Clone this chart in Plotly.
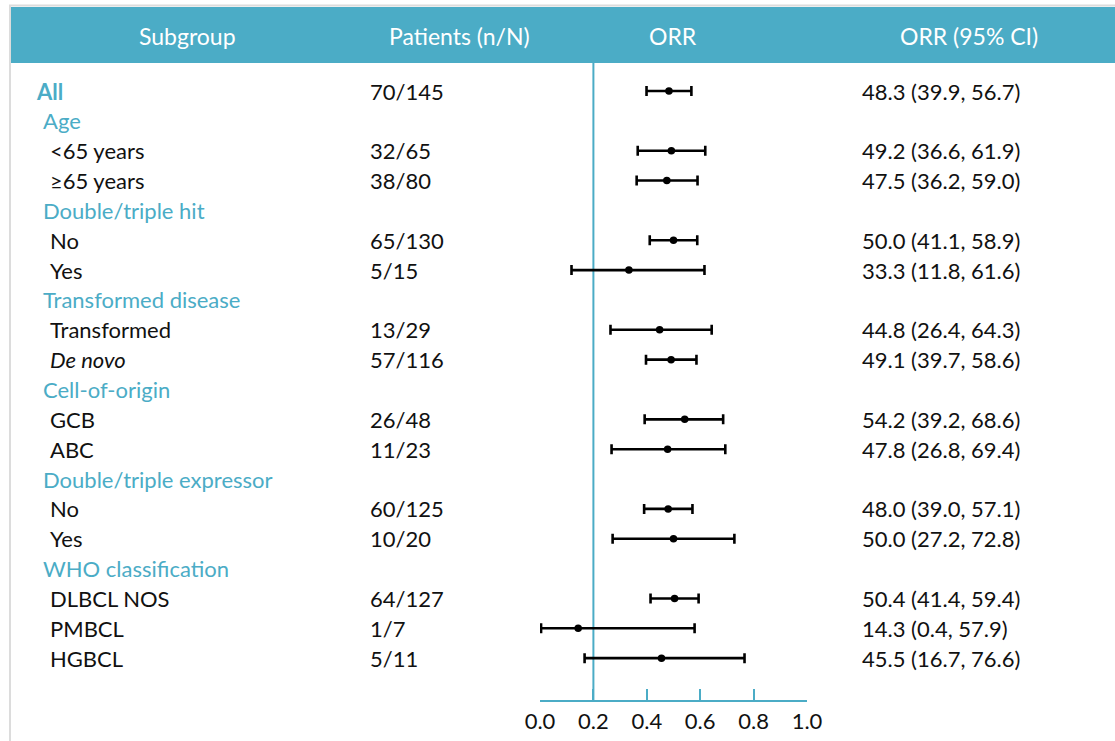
import plotly.graph_objects as go

# ---- data ----
labels = ["All", "Age", "<65 years", "≥65 years", "Double/triple hit", "No", "Yes",
          "Transformed disease", "Transformed", "<i>De novo</i>", "Cell-of-origin", "GCB", "ABC",
          "Double/triple expressor", "No", "Yes", "WHO classification",
          "DLBCL NOS", "PMBCL", "HGBCL"]
# row kind: "all" = overall, "group" = subgroup heading, "item" = subgroup level
kinds = ["all", "group", "item", "item", "group", "item", "item",
         "group", "item", "item", "group", "item", "item",
         "group", "item", "item", "group", "item", "item", "item"]
patients = ["70/145", "", "32/65", "38/80", "", "65/130", "5/15",
            "", "13/29", "57/116", "", "26/48", "11/23",
            "", "60/125", "10/20", "", "64/127", "1/7", "5/11"]
orr = [48.3, None, 49.2, 47.5, None, 50.0, 33.3,
       None, 44.8, 49.1, None, 54.2, 47.8,
       None, 48.0, 50.0, None, 50.4, 14.3, 45.5]
ci_low = [39.9, None, 36.6, 36.2, None, 41.1, 11.8,
          None, 26.4, 39.7, None, 39.2, 26.8,
          None, 39.0, 27.2, None, 41.4, 0.4, 16.7]
ci_high = [56.7, None, 61.9, 59.0, None, 58.9, 61.6,
           None, 64.3, 58.6, None, 68.6, 69.4,
           None, 57.1, 72.8, None, 59.4, 57.9, 76.6]
headers = ["Subgroup", "Patients (n/N)", "ORR", "ORR (95% CI)"]
x_ticks = [0.0, 0.2, 0.4, 0.6, 0.8, 1.0]
reference_line = 0.2

# ---- layout constants ----
W, H = 1115, 741
TEAL = "#4BACC6"
FONT = "Lato"
TXT = 22
row0_px, row_step = 91, 29.85
y_top = -row0_px / row_step
y_bot = (H - row0_px) / row_step

fig = go.Figure()

# error bars + point estimates
xs, ys, lo, hi = [], [], [], []
for i, v in enumerate(orr):
    if v is None:
        continue
    xs.append(v / 100)
    ys.append(i)
    lo.append((v - ci_low[i]) / 100)
    hi.append((ci_high[i] - v) / 100)

fig.add_trace(go.Scatter(
    x=xs, y=ys, mode="markers",
    marker=dict(color="black", size=7.5),
    error_x=dict(type="data", symmetric=False, array=hi, arrayminus=lo,
                 color="black", thickness=2.6, width=5),
    hoverinfo="skip", showlegend=False, cliponaxis=False,
))

fig.update_layout(
    template="none",
    width=W, height=H, autosize=False,
    margin=dict(l=0, r=0, t=0, b=0, pad=0, autoexpand=False),
    paper_bgcolor="white", plot_bgcolor="rgba(0,0,0,0)",
    showlegend=False,
    xaxis=dict(domain=[540 / W, 807 / W], range=[0, 1],
               anchor="free", position=(H - 701) / H, automargin=False,
               showgrid=False, zeroline=False,
               showline=True, linecolor=TEAL, linewidth=2,
               ticks="inside", ticklen=11, tickwidth=2, tickcolor=TEAL,
               tickvals=x_ticks, ticktext=[f"{t:.1f}" for t in x_ticks],
               tickfont=dict(family=FONT, size=TXT, color="#111"),
               ticklabelstandoff=1,
               fixedrange=True),
    yaxis=dict(domain=[0, 1], range=[y_bot, y_top], visible=False,
               automargin=False, fixedrange=True),
)

shapes = []
# outer light-grey frame (left and top)
shapes.append(dict(type="line", xref="paper", yref="paper",
                   x0=10 / W, x1=10 / W, y0=0, y1=1 - 5 / H,
                   line=dict(color="#dcdcdc", width=2)))
shapes.append(dict(type="line", xref="paper", yref="paper",
                   x0=9 / W, x1=1, y0=1 - 5.5 / H, y1=1 - 5.5 / H,
                   line=dict(color="#dcdcdc", width=2)))
# header band
shapes.append(dict(type="rect", xref="paper", yref="paper",
                   x0=11 / W, x1=1, y0=1 - 63 / H, y1=1 - 7 / H,
                   fillcolor=TEAL, line=dict(width=0), layer="below"))
# reference line
shapes.append(dict(type="line", xref="x", yref="paper",
                   x0=reference_line, x1=reference_line,
                   y0=(H - 702) / H, y1=1 - 63 / H,
                   line=dict(color=TEAL, width=2), layer="below"))
fig.update_layout(shapes=shapes)

ann = []
# header texts
header_x = [187, 459, 673, 969]
for h, hx in zip(headers, header_x):
    ann.append(dict(text=h, xref="paper", yref="paper", x=hx / W, y=1 - 36 / H,
                    xanchor="center", yanchor="middle", showarrow=False,
                    font=dict(family=FONT, size=23, color="white")))

for i, lab in enumerate(labels):
    k = kinds[i]
    if k == "all":
        txt, lx, col = f"<b>{lab}</b>", 34, TEAL
    elif k == "group":
        txt, lx, col = lab, 41, TEAL
    else:
        txt, lx, col = lab, 48, "#111"
    ann.append(dict(text=txt, xref="paper", yref="y", x=lx / W, y=i,
                    xanchor="left", yanchor="middle", showarrow=False,
                    font=dict(family=FONT, size=TXT, color=col)))
    if patients[i]:
        ann.append(dict(text=patients[i], xref="paper", yref="y", x=368 / W, y=i,
                        xanchor="left", yanchor="middle", showarrow=False,
                        font=dict(family=FONT, size=TXT, color="#111")))
    if orr[i] is not None:
        s = f"{orr[i]:.1f} ({ci_low[i]:.1f}, {ci_high[i]:.1f})"
        ann.append(dict(text=s, xref="paper", yref="y", x=860 / W, y=i,
                        xanchor="left", yanchor="middle", showarrow=False,
                        font=dict(family=FONT, size=TXT, color="#111")))

fig.update_layout(annotations=ann)

fig.write_html("out.html", config={"displayModeBar": False})
